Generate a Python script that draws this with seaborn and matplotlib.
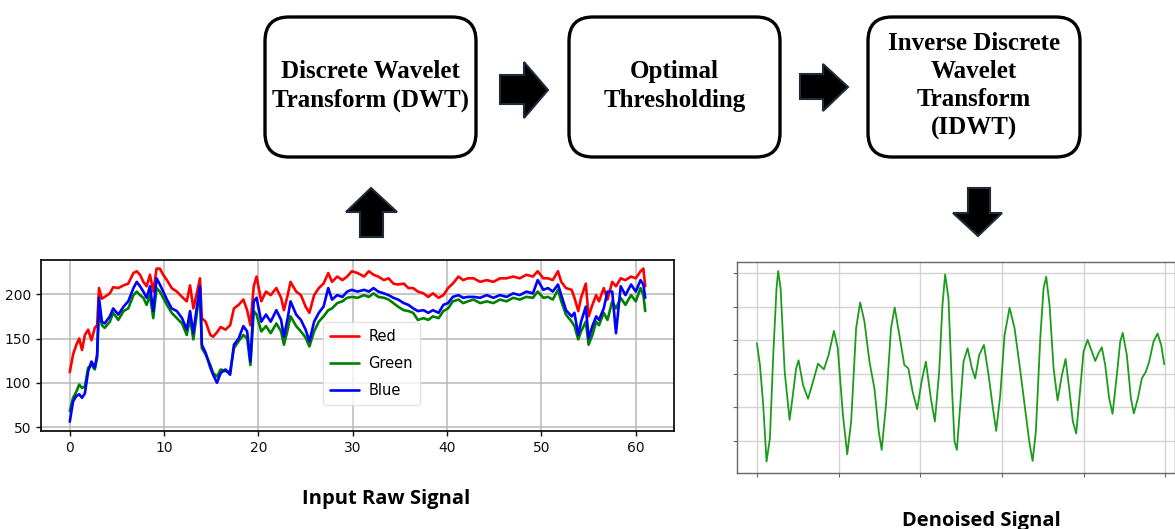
import numpy as np
import pandas as pd
import seaborn as sns
import matplotlib.pyplot as plt
from matplotlib.patches import FancyBboxPatch, Polygon

# raw RGB signal
time_s = [0, 0.35, 0.7, 1.0, 1.3, 1.6, 1.95, 2.3, 2.65, 2.9,
          3.1, 3.4, 3.7, 4.25, 4.6, 5.15, 5.7, 6.2, 6.75, 7.1,
          7.45, 7.8, 8.15, 8.5, 8.85, 9.2, 9.55, 9.9, 10.3, 10.8,
          11.35, 11.9, 12.4, 12.75, 13.1, 13.5, 13.8, 14.0, 14.4, 14.9,
          15.2, 15.6, 16.0, 16.5, 17.0, 17.4, 17.9, 18.4, 18.8, 19.15,
          19.5, 19.8,
          20.3, 20.8, 21.3, 21.9, 22.4, 22.7, 23.1, 23.4, 24.0, 24.5,
          25.0, 25.4, 25.9, 26.4, 26.9, 27.4, 27.8, 28.35, 28.9, 29.4,
          29.9, 30.5, 31.2, 31.7, 32.2, 32.7, 33.3, 33.8, 34.3, 34.8,
          35.4, 35.9, 36.4, 36.9, 37.5, 38.0, 38.5, 39.1, 39.6, 40.1,
          40.6, 41.2, 41.7, 42.2,
          42.8, 43.5, 44.2, 44.9, 45.6, 46.3, 47.0, 47.7, 48.4, 49.1,
          49.6, 50.2, 50.7, 51.2, 51.75, 52.1, 52.6, 53.2, 53.5, 53.9,
          54.2, 54.7, 55.0, 55.4, 55.8, 56.1, 56.6, 57.0, 57.5, 57.9,
          58.4, 58.9, 59.5, 60.0, 60.5, 60.8, 61.0]

red = [112, 132, 143, 150, 137, 154, 160, 148, 162, 165,
       207, 195, 197, 201, 208, 207, 210, 212, 224, 226,
       222, 214, 209, 222, 203, 229, 229, 222, 216, 207,
       203, 197, 192, 210, 184, 203, 218, 173, 169, 154,
       152, 157, 163, 160, 165, 184, 188, 194, 182, 165,
       209, 220,
       192, 203, 199, 207, 196, 182, 199, 214, 203, 199,
       186, 179, 199, 207, 212, 224, 214, 220, 216, 220,
       226, 224, 220, 226, 222, 220, 216, 218, 212, 211,
       212, 207, 207, 203, 201, 197, 201, 196, 199, 207,
       212, 220, 216, 218,
       218, 214, 216, 214, 218, 218, 220, 218, 222, 220,
       226, 218, 218, 216, 226, 214, 207, 205, 196, 181,
       196, 212, 175, 188, 199, 192, 207, 194, 214, 209,
       218, 216, 220, 218, 226, 229, 209]

green = [68, 83, 90, 98, 94, 96, 117, 120, 115, 128,
         188, 165, 162, 169, 179, 171, 181, 184, 199, 203,
         199, 196, 188, 199, 173, 207, 203, 196, 188, 179,
         173, 167, 154, 173, 149, 181, 207, 139, 132, 120,
         111, 107, 115, 113, 113, 139, 147, 154, 150, 120,
         181, 177,
         158, 164, 156, 167, 158, 143, 160, 175, 164, 158,
         151, 141, 158, 169, 175, 182, 184, 190, 192, 196,
         197, 196, 199, 197, 201, 197, 196, 194, 190, 186,
         182, 181, 179, 171, 173, 171, 175, 173, 181, 184,
         192, 194, 190, 192,
         194, 190, 192, 190, 194, 192, 196, 194, 197, 196,
         203, 196, 197, 194, 205, 192, 177, 169, 164, 149,
         158, 169, 143, 154, 169, 165, 179, 171, 192, 184,
         196, 188, 199, 192, 207, 199, 181]

blue = [56, 79, 85, 87, 83, 88, 113, 124, 117, 132,
        196, 169, 167, 175, 184, 177, 186, 192, 207, 214,
        209, 203, 196, 209, 181, 218, 211, 203, 194, 184,
        181, 173, 160, 181, 156, 188, 209, 143, 134, 117,
        109, 100, 111, 115, 109, 143, 150, 164, 158, 124,
        192, 196,
        169, 177, 169, 182, 171, 152, 173, 192, 177, 171,
        160, 147, 169, 179, 186, 207, 194, 199, 197, 203,
        205, 203, 205, 203, 207, 203, 201, 199, 196, 194,
        190, 188, 184, 181, 182, 179, 182, 179, 188, 190,
        197, 199, 196, 197,
        197, 196, 199, 196, 199, 197, 201, 199, 203, 201,
        216, 205, 207, 203, 211, 199, 182, 175, 179, 154,
        169, 186, 150, 164, 175, 171, 184, 203, 203, 156,
        209, 199, 211, 203, 216, 211, 196]

# denoised output signal (arbitrary units, no tick labels in the picture)
den_x = [0, 0.037, 0.077, 0.118, 0.159, 0.2, 0.24, 0.26, 0.29, 0.34,
         0.40, 0.44, 0.48, 0.51, 0.565, 0.626, 0.687, 0.748, 0.82, 0.878,
         0.943, 0.99, 1.053, 1.106, 1.154, 1.215, 1.264, 1.317, 1.378, 1.439,
         1.492, 1.528, 1.581, 1.642, 1.687, 1.744, 1.805, 1.854, 1.907, 1.963,
         2.016, 2.069, 2.13, 2.179, 2.232, 2.272, 2.305, 2.346, 2.388, 2.42,
         2.449, 2.49, 2.53, 2.58, 2.633, 2.673, 2.722, 2.78, 2.837, 2.89,
         2.93, 2.98, 3.033, 3.094, 3.155, 3.216, 3.278, 3.335, 3.376, 3.416,
         3.47, 3.51, 3.543, 3.584, 3.633, 3.682, 3.735, 3.78, 3.824, 3.869,
         3.91, 3.96, 4.0, 4.049, 4.102, 4.143, 4.184, 4.224, 4.265, 4.314,
         4.355, 4.408, 4.449, 4.48, 4.53, 4.58, 4.616, 4.665, 4.714, 4.763,
         4.804, 4.857, 4.906, 4.951, 4.988]
den_y = [2.91, 2.26, 1.07, -0.63, 0.07, 2.56, 4.55, 5.07, 4.55, 2.06,
         0.62, 1.36, 2.16, 2.40, 1.66, 1.25, 1.76, 2.30, 2.13, 2.56,
         3.28, 2.76, 0.77, -0.41, 0.57, 3.36, 4.13, 3.56, 2.36, 1.56,
         0.27, -0.28, 1.07, 3.36, 3.98, 3.16, 2.26, 2.16, 1.46, 0.94,
         1.76, 2.36, 1.26, 0.57, 2.06, 4.05, 4.97, 4.25, 1.6, -0.03,
         -0.28, 1.07, 2.36, 2.76, 2.16, 1.86, 2.56, 2.86, 1.96, 0.97,
         0.29, 1.36, 3.16, 3.97, 3.36, 2.26, 1.07, -0.03, -0.61, 0.27,
         3.06, 4.55, 4.90, 4.05, 2.16, 1.20, 1.96, 2.44, 1.56, 0.57,
         0.21, 1.56, 2.66, 3.01, 2.66, 2.38, 2.61, 2.79, 2.26, 1.26,
         0.80, 1.96, 2.96, 3.22, 2.56, 1.26, 0.81, 1.26, 1.86, 2.06,
         2.36, 2.96, 3.20, 2.86, 2.28]

raw_ticks_x = [0, 10, 20, 30, 40, 50, 60]
raw_ticks_y = [50, 100, 150, 200]
channel_names = ['Red', 'Green', 'Blue']
channel_colors = ['#ff0000', '#008000', '#0000ff']

step_labels = ['Discrete Wavelet\nTransform (DWT)',
               'Optimal\nThresholding',
               'Inverse Discrete\nWavelet\nTransform\n(IDWT)']

sns.set_style('white')
plt.rcParams['font.family'] = ['DejaVu Sans']
plt.rcParams['text.color'] = 'black'

W, H = 1175, 529
fig = plt.figure(figsize=(W / 100, H / 100), dpi=100)

# ---- raw signal panel
ax1 = fig.add_axes([41 / W, 1 - 431 / H, (674 - 41) / W, (431 - 260) / H])
raw = pd.DataFrame({'t': time_s, 'Red': red, 'Green': green, 'Blue': blue})
for name, col in zip(channel_names, channel_colors):
    sns.lineplot(data=raw, x='t', y=name, color=col, lw=1.9, label=name, ax=ax1)
ax1.set_xlim(-3.05, 64.05)
ax1.set_ylim(45.5, 238.7)
ax1.set_xticks(raw_ticks_x)
ax1.set_yticks(raw_ticks_y)
ax1.set_xlabel('')
ax1.set_ylabel('')
ax1.grid(True, color='#b8b8b8', lw=1.1)
ax1.tick_params(axis='both', direction='out', length=3.5, width=1, labelsize=10,
                left=True, bottom=True, colors='#111111')
for s in ax1.spines.values():
    s.set_color('#111111')
    s.set_linewidth(1.3)
ax1.legend(loc='upper left', bbox_to_anchor=(323 / W, 1 - 322 / H),
           bbox_transform=fig.transFigure, borderaxespad=0, fontsize=10.5,
           labelspacing=0.8, handlelength=2.0, handletextpad=0.6,
           borderpad=0.5, framealpha=0.8, edgecolor='#dddddd')

# ---- denoised panel
ax2 = fig.add_axes([737 / W, 1 - 473 / H, (W - 737) / W, (473 - 262) / H])
den = pd.DataFrame({'x': den_x, 'y': den_y})
sns.lineplot(data=den, x='x', y='y', color='#1c9c1c', lw=1.3, ax=ax2)
ax2.set_xlim(-0.244, 5.12)
ax2.set_ylim(-0.97, 5.34)
ax2.set_xticks(range(6))
ax2.set_yticks(range(6))
ax2.set_xticklabels([])
ax2.set_yticklabels([])
ax2.set_xlabel('')
ax2.set_ylabel('')
ax2.grid(True, color='#d4d4d4', lw=1.0)
ax2.tick_params(axis='both', direction='out', length=3, width=0.8,
                left=True, bottom=True, colors='#666666')
for s in ax2.spines.values():
    s.set_color('#666666')
    s.set_linewidth(1.0)

# ---- flow diagram overlay, pixel coordinates
ov = fig.add_axes([0, 0, 1, 1], zorder=-1)
ov.set_xlim(0, W)
ov.set_ylim(H, 0)
ov.axis('off')

boxes = [(265, 476), (569, 780), (868, 1080)]
for (x0, x1), txt in zip(boxes, step_labels):
    ov.add_patch(FancyBboxPatch((x0, 17), x1 - x0, 140,
                                boxstyle='round,pad=0,rounding_size=24',
                                fc='white', ec='black', lw=2.4))
    ov.text((x0 + x1) / 2, 86, txt, ha='center', va='center', color='black',
            family='Liberation Serif', fontweight='bold', fontsize=18,
            linespacing=1.28)

def block_arrow(pts):
    ov.add_patch(Polygon(pts, closed=True, fc='black', ec='#1e2c3a', lw=1.5))

# right arrows between boxes
block_arrow([(500, 75), (524, 75), (524, 62), (548, 90), (524, 118),
             (524, 104), (500, 104)])
block_arrow([(800, 74), (823, 74), (823, 64), (848, 87), (823, 111),
             (823, 99), (800, 99)])
# up arrow under DWT, down arrow under IDWT
block_arrow([(360, 237), (360, 212), (346, 212), (371, 188), (397, 212),
             (383, 212), (383, 237)])
block_arrow([(968, 188), (990, 188), (990, 213), (1002, 213), (978, 236),
             (953, 213), (968, 213)])

ov.text(386, 504, 'Input Raw Signal', ha='center', va='baseline', color='black',
        family='Open Sans', fontweight='bold', fontsize=14.5)
ov.text(981, 526, 'Denoised Signal', ha='center', va='baseline', color='black',
        family='Open Sans', fontweight='bold', fontsize=14.5)

fig.savefig('out.png', dpi=100)
